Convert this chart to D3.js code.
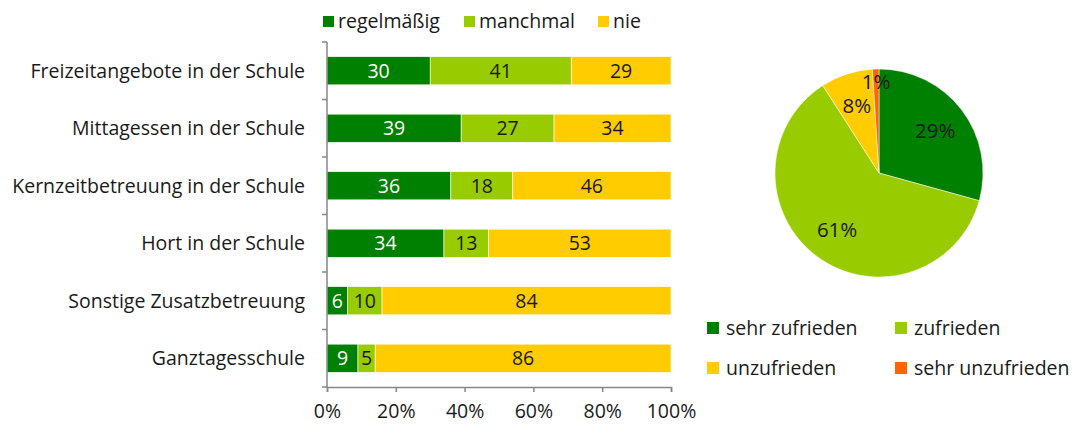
<html>
<head><meta charset="utf-8"></head>
<body style="margin:0;background:#fff">
    <script src="https://d3js.org/d3.v7.min.js"></script>
    <div id="main"></div>

    <script>
        // bar chart data
        var categories = ["Freizeitangebote in der Schule", "Mittagessen in der Schule",
            "Kernzeitbetreuung in der Schule", "Hort in der Schule",
            "Sonstige Zusatzbetreuung", "Ganztagesschule"];
        var seriesNames = ["regelmäßig", "manchmal", "nie"];
        var regelmaessig = [30, 39, 36, 34, 6, 9];
        var manchmal = [41, 27, 18, 13, 10, 5];
        var nie = [29, 34, 46, 53, 84, 86];
        var xTicks = [0, 20, 40, 60, 80, 100];

        // pie data
        var pieNames = ["sehr zufrieden", "zufrieden", "unzufrieden", "sehr unzufrieden"];
        var pieValues = [29, 61, 8, 1];

        var barColors = ["#008000", "#99cc00", "#ffcc00"];
        var pieColors = ["#008000", "#99cc00", "#ffcc00", "#ff6600"];
        var font = "'Open Sans', sans-serif";
        var fs = "19.5px";

        var svg = d3.select("#main")
            .append("svg")
            .attr("width", 1072)
            .attr("height", 425)
            .style("font-family", font);

        // scales
        var x = d3.scaleLinear().domain([0, 100]).range([327, 671]);
        var y = d3.scaleBand().domain(categories).range([42, 387]).paddingInner(0.51).paddingOuter(0.255);

        var rows = categories.map(function (c, i) {
            return { cat: c, vals: [regelmaessig[i], manchmal[i], nie[i]] };
        });

        // bars
        rows.forEach(function (r) {
            var start = 0;
            r.vals.forEach(function (v, j) {
                var g = svg.append("g");
                g.append("rect")
                    .attr("x", x(start))
                    .attr("y", y(r.cat))
                    .attr("width", x(start + v) - x(start))
                    .attr("height", y.bandwidth())
                    .attr("fill", barColors[j])
                    .attr("stroke", "#ffffff")
                    .attr("stroke-width", 0.6);
                g.append("text")
                    .attr("x", x(start + v / 2))
                    .attr("y", y(r.cat) + y.bandwidth() / 2)
                    .attr("dy", "0.36em")
                    .attr("text-anchor", "middle")
                    .style("font-size", fs)
                    .attr("fill", j == 0 ? "#ffffff" : "#1a1a1a")
                    .text(v);
                start += v;
            });
        });

        // y axis
        var yAxis = svg.append("g").attr("transform", "translate(327,0)");
        yAxis.append("line").attr("x1", 0).attr("x2", 0).attr("y1", 42).attr("y2", 387)
            .attr("stroke", "#868686").attr("stroke-width", 1.5);
        d3.range(categories.length + 1).forEach(function (i) {
            var yy = 42 + i * (345 / categories.length);
            yAxis.append("line").attr("x1", -5).attr("x2", 0).attr("y1", yy).attr("y2", yy)
                .attr("stroke", "#868686").attr("stroke-width", 1.5);
        });
        categories.forEach(function (c) {
            svg.append("text")
                .attr("x", 305)
                .attr("y", y(c) + y.bandwidth() / 2)
                .attr("dy", "0.36em")
                .attr("text-anchor", "end")
                .style("font-size", fs)
                .attr("fill", "#1a1a1a")
                .text(c);
        });

        // x axis
        var xAxis = svg.append("g").attr("transform", "translate(0,387)")
            .call(d3.axisBottom(x).tickValues(xTicks).tickSize(5).tickFormat(function (d) { return d + "%"; }));
        xAxis.select(".domain").attr("stroke", "#868686").attr("stroke-width", 1.5);
        xAxis.selectAll(".tick line").attr("stroke", "#868686").attr("stroke-width", 1.5);
        xAxis.selectAll(".tick text").style("font-size", fs).style("font-family", font)
            .attr("fill", "#1a1a1a").attr("y", 17);

        // bar legend
        var legX = [323, 464, 598];
        seriesNames.forEach(function (n, i) {
            svg.append("rect").attr("x", legX[i]).attr("y", 16).attr("width", 11).attr("height", 11)
                .attr("fill", barColors[i]);
            svg.append("text").attr("x", legX[i] + 15).attr("y", 21).attr("dy", "0.36em")
                .style("font-size", fs).attr("fill", "#1a1a1a").text(n);
        });

        // pie
        var cx = 879, cy = 173, r = 104;
        var pie = d3.pie().sort(null).value(function (d) { return d; });
        var arcs = pie(pieValues);
        var arc = d3.arc().innerRadius(0).outerRadius(r);
        var pg = svg.append("g").attr("transform", "translate(" + cx + "," + cy + ")");
        pg.selectAll("path").data(arcs).enter().append("path")
            .attr("d", arc)
            .attr("fill", function (d, i) { return pieColors[i]; })
            .attr("stroke", "#ffffff").attr("stroke-width", 0.5);
        pg.selectAll("text").data(arcs).enter().append("text")
            .attr("transform", function (d) {
                var lr = d.data < 3 ? r * 0.88 : r * 0.68;
                var a = (d.startAngle + d.endAngle) / 2;
                return "translate(" + (Math.sin(a) * lr) + "," + (-Math.cos(a) * lr) + ")";
            })
            .attr("dy", "0.36em")
            .attr("text-anchor", "middle")
            .style("font-size", "20.5px")
            .attr("fill", "#1a1a1a")
            .text(function (d) { return d.data + "%"; });

        // pie legend
        var pLegX = [707, 895], pLegY = [322, 362];
        pieNames.forEach(function (n, i) {
            var lx = pLegX[i % 2], ly = pLegY[Math.floor(i / 2)];
            svg.append("rect").attr("x", lx).attr("y", ly).attr("width", 12).attr("height", 12)
                .attr("fill", pieColors[i]);
            svg.append("text").attr("x", lx + 19).attr("y", ly + 6).attr("dy", "0.36em")
                .style("font-size", fs).attr("fill", "#1a1a1a").text(n);
        });
    </script>
</body>
</html>
